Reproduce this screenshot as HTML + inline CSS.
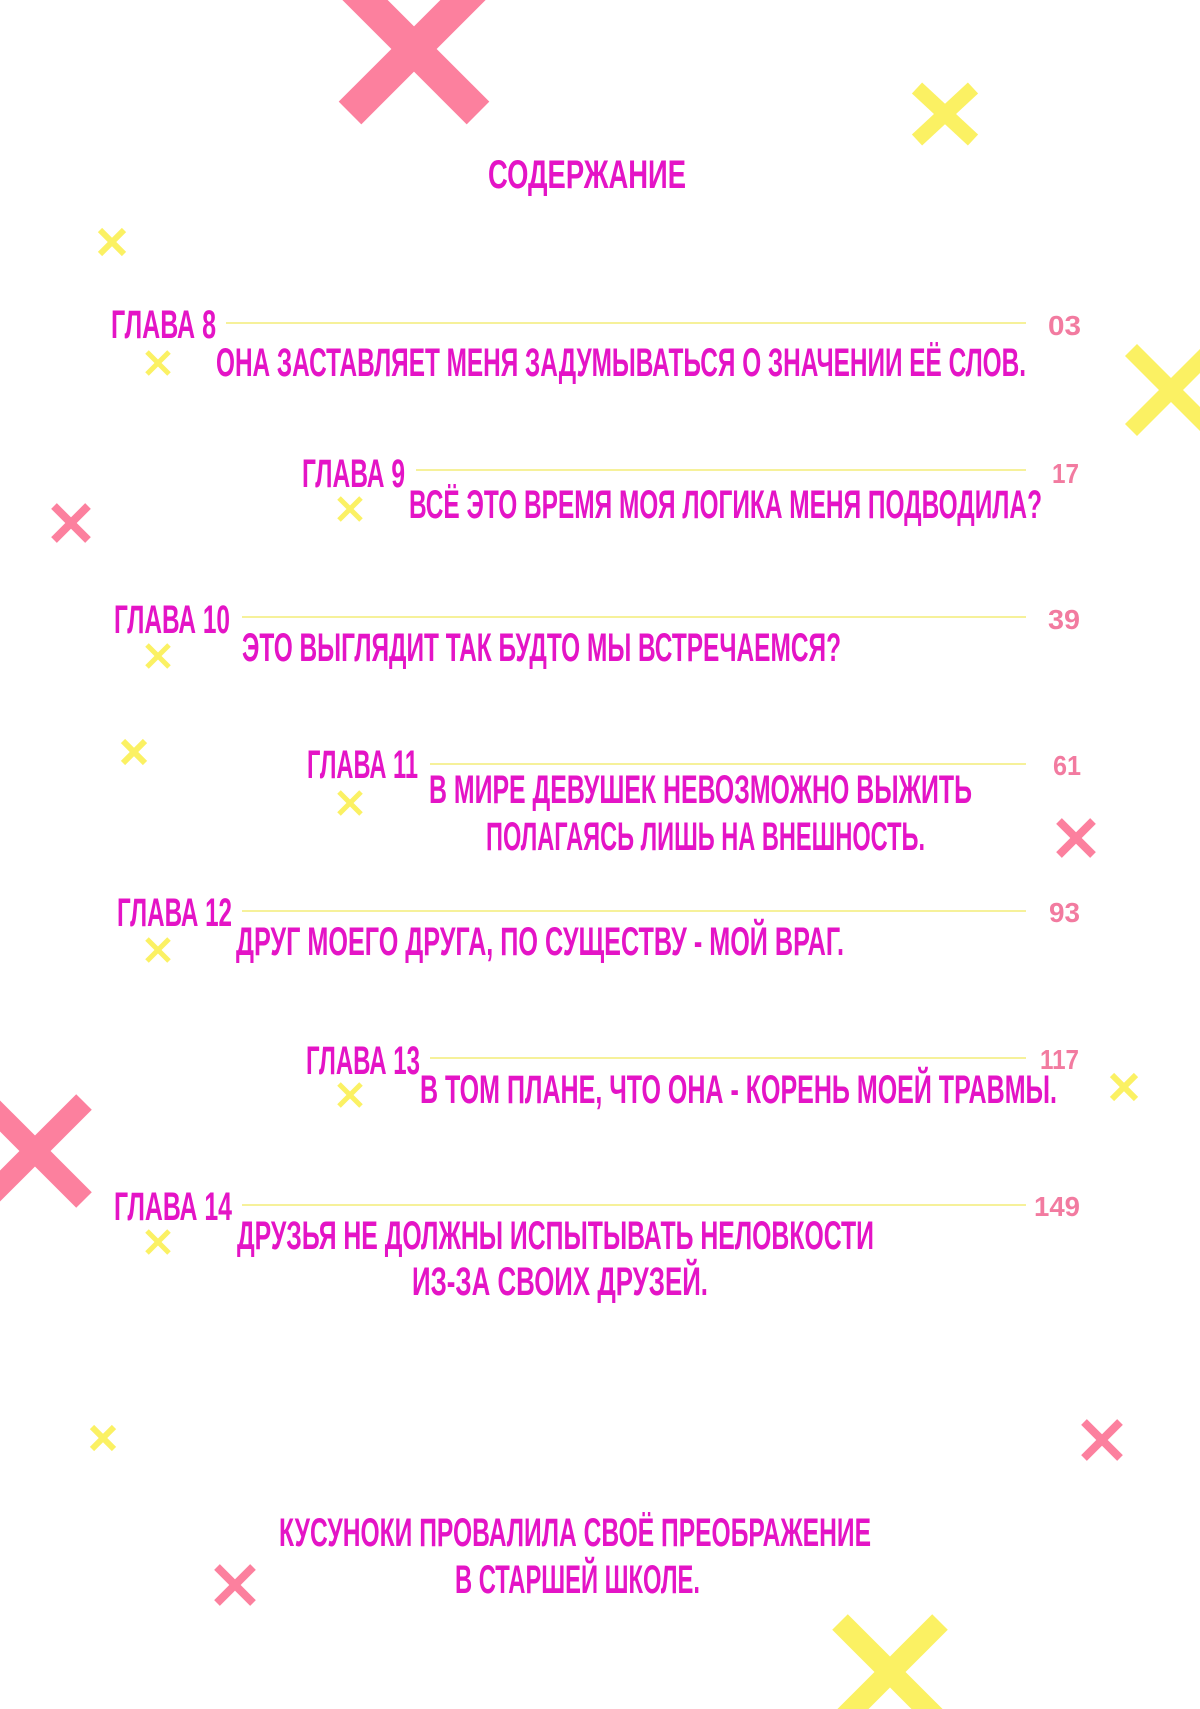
<!DOCTYPE html>
<html><head><meta charset="utf-8"><style>
html,body{margin:0;padding:0;background:#fff;}
svg{display:block}
text{font-family:"Liberation Sans Narrow","Liberation Sans",sans-serif;font-weight:bold;}
.m{fill:#e414c6;}
.p{fill:#f27ba0;}
</style></head><body>
<svg width="1200" height="1709" viewBox="0 0 1200 1709" xmlns="http://www.w3.org/2000/svg">
<g stroke-linecap="butt">
<!-- big pink top -->
<g stroke="#fc809e" stroke-width="32"><line x1="350" y1="-15" x2="478" y2="113"/><line x1="478" y1="-15" x2="350" y2="113"/></g>
<g stroke="#fbf163" stroke-width="15"><line x1="917" y1="88" x2="973" y2="140"/><line x1="973" y1="88" x2="917" y2="140"/></g>
<g stroke="#fbf163" stroke-width="6"><line x1="100" y1="230" x2="124" y2="254"/><line x1="124" y1="230" x2="100" y2="254"/></g>
<g stroke="#fbf163" stroke-width="17"><line x1="1131" y1="350" x2="1211" y2="430"/><line x1="1211" y1="350" x2="1131" y2="430"/></g>
<g stroke="#fc809e" stroke-width="8"><line x1="54" y1="506" x2="88" y2="540"/><line x1="88" y1="506" x2="54" y2="540"/></g>
<g stroke="#fbf163" stroke-width="6"><line x1="123" y1="741" x2="145" y2="763"/><line x1="145" y1="741" x2="123" y2="763"/></g>
<g stroke="#fc809e" stroke-width="8"><line x1="1059" y1="821" x2="1093" y2="855"/><line x1="1093" y1="821" x2="1059" y2="855"/></g>
<g stroke="#fbf163" stroke-width="6"><line x1="1112" y1="1075" x2="1136" y2="1099"/><line x1="1136" y1="1075" x2="1112" y2="1099"/></g>
<g stroke="#fc809e" stroke-width="22"><line x1="-14" y1="1102" x2="84" y2="1200"/><line x1="84" y1="1102" x2="-14" y2="1200"/></g>
<g stroke="#fbf163" stroke-width="6"><line x1="92" y1="1427" x2="114" y2="1449"/><line x1="114" y1="1427" x2="92" y2="1449"/></g>
<g stroke="#fc809e" stroke-width="8"><line x1="1084" y1="1422" x2="1120" y2="1458"/><line x1="1120" y1="1422" x2="1084" y2="1458"/></g>
<g stroke="#fc809e" stroke-width="8"><line x1="217" y1="1567" x2="253" y2="1603"/><line x1="253" y1="1567" x2="217" y2="1603"/></g>
<g stroke="#fbf163" stroke-width="22"><line x1="840" y1="1622" x2="940" y2="1722"/><line x1="940" y1="1622" x2="840" y2="1722"/></g>
<!-- small yellow markers -->
<g stroke="#fbf163" stroke-width="5">
<line x1="147" y1="352" x2="169" y2="374"/><line x1="169" y1="352" x2="147" y2="374"/>
<line x1="339" y1="498" x2="361" y2="520"/><line x1="361" y1="498" x2="339" y2="520"/>
<line x1="147" y1="645" x2="169" y2="667"/><line x1="169" y1="645" x2="147" y2="667"/>
<line x1="339" y1="792" x2="361" y2="814"/><line x1="361" y1="792" x2="339" y2="814"/>
<line x1="147" y1="939" x2="169" y2="961"/><line x1="169" y1="939" x2="147" y2="961"/>
<line x1="339" y1="1084" x2="361" y2="1106"/><line x1="361" y1="1084" x2="339" y2="1106"/>
<line x1="147" y1="1231" x2="169" y2="1253"/><line x1="169" y1="1231" x2="147" y2="1253"/>
</g>
<!-- rule lines -->
<g stroke="#f6f19a" stroke-width="2">
<line x1="226" y1="323" x2="1026" y2="323"/>
<line x1="416" y1="470" x2="1026" y2="470"/>
<line x1="242" y1="617" x2="1026" y2="617"/>
<line x1="430" y1="764" x2="1026" y2="764"/>
<line x1="242" y1="911" x2="1026" y2="911"/>
<line x1="430" y1="1058" x2="1026" y2="1058"/>
<line x1="242" y1="1205" x2="1026" y2="1205"/>
</g>
</g>
<g font-size="40" lengthAdjust="spacingAndGlyphs">
<text class="m" x="488" y="188" textLength="198" lengthAdjust="spacingAndGlyphs">СОДЕРЖАНИЕ</text>

<text class="m" x="111" y="338" textLength="105" lengthAdjust="spacingAndGlyphs">ГЛАВА 8</text>
<text class="p" x="1048" y="335" font-size="28" textLength="33" lengthAdjust="spacingAndGlyphs">03</text>
<text class="m" x="216" y="376" textLength="810" lengthAdjust="spacingAndGlyphs">ОНА ЗАСТАВЛЯЕТ МЕНЯ ЗАДУМЫВАТЬСЯ О ЗНАЧЕНИИ ЕЁ СЛОВ.</text>

<text class="m" x="302" y="487" textLength="103" lengthAdjust="spacingAndGlyphs">ГЛАВА 9</text>
<text class="p" x="1052" y="483" font-size="28" textLength="27" lengthAdjust="spacingAndGlyphs">17</text>
<text class="m" x="409" y="518" textLength="633" lengthAdjust="spacingAndGlyphs">ВСЁ ЭТО ВРЕМЯ МОЯ ЛОГИКА МЕНЯ ПОДВОДИЛА?</text>

<text class="m" x="114" y="633" textLength="116" lengthAdjust="spacingAndGlyphs">ГЛАВА 10</text>
<text class="p" x="1048" y="629" font-size="28" textLength="32" lengthAdjust="spacingAndGlyphs">39</text>
<text class="m" x="242" y="661" textLength="599" lengthAdjust="spacingAndGlyphs">ЭТО ВЫГЛЯДИТ ТАК БУДТО МЫ ВСТРЕЧАЕМСЯ?</text>

<text class="m" x="307" y="778" textLength="111" lengthAdjust="spacingAndGlyphs">ГЛАВА 11</text>
<text class="p" x="1053" y="775" font-size="28" textLength="28" lengthAdjust="spacingAndGlyphs">61</text>
<text class="m" x="429" y="803" textLength="543" lengthAdjust="spacingAndGlyphs">В МИРЕ ДЕВУШЕК НЕВОЗМОЖНО ВЫЖИТЬ</text>
<text class="m" x="486" y="850" textLength="439" lengthAdjust="spacingAndGlyphs">ПОЛАГАЯСЬ ЛИШЬ НА ВНЕШНОСТЬ.</text>

<text class="m" x="117" y="926" textLength="115" lengthAdjust="spacingAndGlyphs">ГЛАВА 12</text>
<text class="p" x="1049" y="922" font-size="28" textLength="31" lengthAdjust="spacingAndGlyphs">93</text>
<text class="m" x="236" y="955" textLength="608" lengthAdjust="spacingAndGlyphs">ДРУГ МОЕГО ДРУГА, ПО СУЩЕСТВУ - МОЙ ВРАГ.</text>

<text class="m" x="306" y="1074" textLength="114" lengthAdjust="spacingAndGlyphs">ГЛАВА 13</text>
<text class="p" x="1040" y="1069" font-size="28" textLength="39" lengthAdjust="spacingAndGlyphs">117</text>
<text class="m" x="420" y="1103" textLength="637" lengthAdjust="spacingAndGlyphs">В ТОМ ПЛАНЕ, ЧТО ОНА  - КОРЕНЬ МОЕЙ ТРАВМЫ.</text>

<text class="m" x="114" y="1220" textLength="118" lengthAdjust="spacingAndGlyphs">ГЛАВА 14</text>
<text class="p" x="1034" y="1216" font-size="28" textLength="46" lengthAdjust="spacingAndGlyphs">149</text>
<text class="m" x="237" y="1249" textLength="637" lengthAdjust="spacingAndGlyphs">ДРУЗЬЯ НЕ ДОЛЖНЫ ИСПЫТЫВАТЬ НЕЛОВКОСТИ</text>
<text class="m" x="412" y="1295" textLength="296" lengthAdjust="spacingAndGlyphs">ИЗ-ЗА СВОИХ ДРУЗЕЙ.</text>

<text class="m" x="279" y="1546" textLength="592" lengthAdjust="spacingAndGlyphs">КУСУНОКИ ПРОВАЛИЛА СВОЁ ПРЕОБРАЖЕНИЕ</text>
<text class="m" x="455" y="1593" textLength="245" lengthAdjust="spacingAndGlyphs">В СТАРШЕЙ ШКОЛЕ.</text>
</g>
</svg>
</body></html>
